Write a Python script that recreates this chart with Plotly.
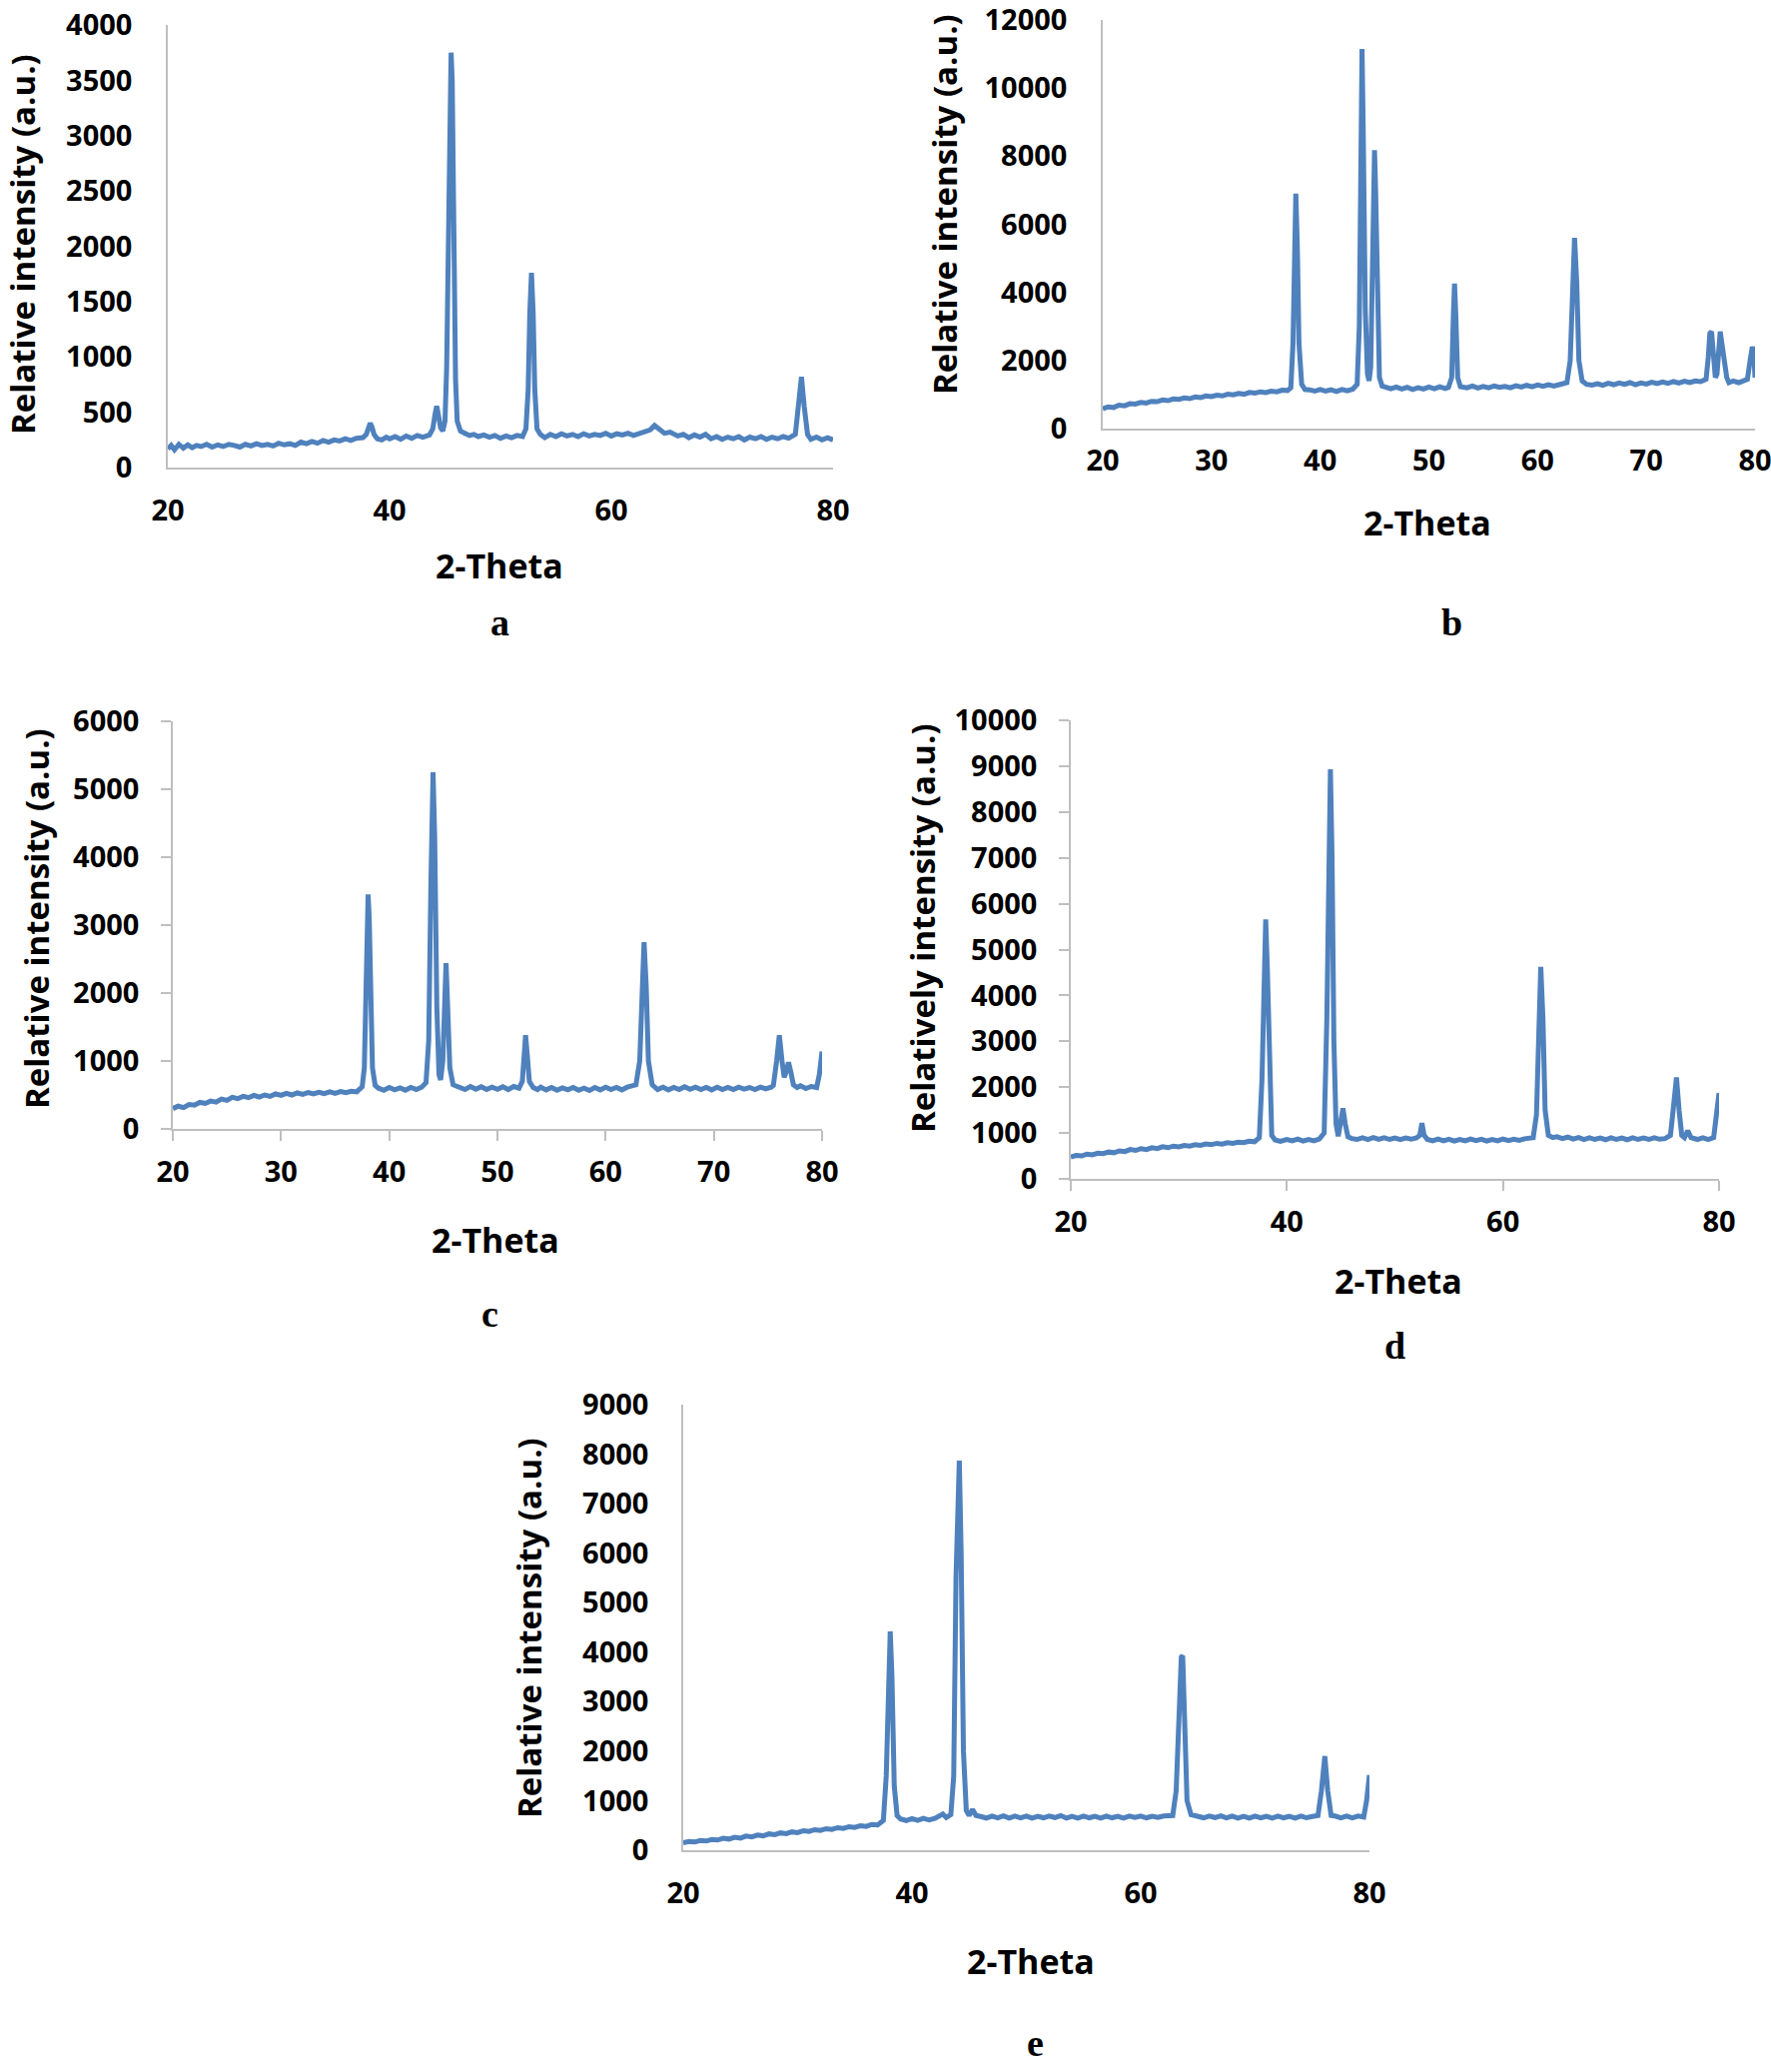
import plotly.graph_objects as go

# ---------------- data ----------------
theta_a = [20.0, 20.3, 20.6, 21, 21.4, 21.8, 22.2, 22.6, 23, 23.5, 24, 24.5, 25, 25.5, 26, 26.5, 27, 27.5, 28, 28.5,
           29, 29.5, 30, 30.5, 31, 31.5, 32, 32.5, 33, 33.5, 34, 34.5, 35, 35.5, 36, 36.5, 37,
           37.6, 37.9, 38.1, 38.25, 38.4, 38.6, 38.9, 39.3, 39.7, 40, 40.5, 41, 41.5, 42, 42.5, 43, 43.6, 43.9, 44.1, 44.25, 44.4,
           44.6, 44.8, 45.0, 45.15, 45.3, 45.45, 45.55, 45.65, 45.8, 45.95, 46.1, 46.4, 46.8, 47.2, 47.6, 48, 48.5, 49, 49.5, 50, 50.5, 51,
           51.5, 52, 52.3, 52.5, 52.65, 52.8, 52.95, 53.1, 53.3, 53.6, 54, 54.5, 55, 55.5, 56, 56.5, 57, 57.5, 58, 58.5, 59, 59.5, 60,
           60.5, 61, 61.5, 62, 62.5, 63,
           63.5, 63.9, 64.3, 64.8, 65.3, 65.7, 66, 66.5, 67, 67.5, 68, 68.5, 69, 69.5, 70, 70.5, 71, 71.5, 72, 72.5, 73, 73.5,
           74, 74.5, 75, 75.5, 76, 76.6, 76.9,
           77.15, 77.4, 77.7, 78, 78.5, 79, 79.5, 80]
intensity_a = [170, 200, 160, 210, 175, 205, 180, 200, 190, 210, 185, 205, 190, 210, 200, 185, 210, 195, 215, 200,
               210, 195, 220, 205, 215, 200, 230, 215, 235, 220, 245, 230, 250, 240, 260, 245, 265,
               270, 300, 370, 400, 370, 300, 260, 250, 275, 260, 280, 255, 285, 265, 290, 275, 295, 350, 480, 555, 480,
               360, 330, 420, 900, 2300, 3600, 3750, 3500, 2000, 800, 420, 330, 310, 290, 300, 280, 295, 275, 290, 265, 285, 270,
               290, 280, 350, 700, 1400, 1760, 1400, 700, 350, 300, 270, 300, 280, 305, 285, 300, 280, 305, 285, 300, 290, 310, 285,
               305, 295, 310, 290, 305, 315,
               340, 380, 345, 310, 320, 300, 285, 300, 270, 295, 275, 300, 260, 280, 255, 275, 260, 280, 250, 275, 260, 280,
               255, 275, 260, 280, 265, 300, 550,
               820, 550, 300, 255, 275, 250, 270, 250]

theta_b = [20, 20.5, 21, 21.5, 22, 22.5, 23, 23.5, 24, 24.5, 25, 25.5, 26, 26.5, 27, 27.5, 28, 28.5, 29, 29.5, 30, 30.5,
           31, 31.5, 32, 32.5, 33, 33.5, 34, 34.5, 35, 35.5, 36, 36.5, 37, 37.3, 37.5, 37.65,
           37.76, 37.9, 38.05, 38.3, 38.6, 39, 39.5, 40, 40.5, 41, 41.5, 42, 42.5, 43, 43.4, 43.6, 43.75, 43.85, 43.95, 44.15, 44.35,
           44.5, 44.65, 44.8, 44.92, 45.0, 45.1, 45.25, 45.45, 45.7, 46, 46.5, 47, 47.5, 48, 48.5, 49, 49.5, 50, 50.5, 51, 51.5, 51.8, 52.1,
           52.25, 52.36, 52.48, 52.65, 52.9, 53.5, 54, 54.5, 55, 55.5, 56, 56.5, 57, 57.5, 58, 58.5, 59, 59.5, 60, 60.5, 61, 61.5,
           62, 62.7, 63.0, 63.2, 63.4,
           63.6, 63.8, 64.1, 64.5, 65, 65.5, 66, 66.5, 67, 67.5, 68, 68.5, 69, 69.5, 70, 70.5, 71, 71.5, 72, 72.5, 73, 73.5, 74,
           74.5, 75, 75.5, 75.7, 75.85, 76.0,
           76.15, 76.35, 76.5, 76.65, 76.8, 76.95, 77.1, 77.25, 77.4, 77.6, 78, 78.5, 79, 79.3, 79.55,
           79.75, 79.9, 80]
intensity_b = [580, 640, 620, 690, 670, 730, 720, 770, 750, 800, 790, 840, 820, 870, 860, 900, 880, 930, 910, 960, 940, 980,
               960, 1010, 990, 1030, 1010, 1060, 1040, 1080, 1060, 1100, 1080, 1130, 1120, 1200, 2500, 5500,
               6900, 5300, 2500, 1300, 1150, 1140, 1100, 1150, 1100, 1140, 1090, 1150, 1110, 1160, 1300, 3000, 8500, 11150, 9000, 3500, 1600,
               1400, 1800, 4500, 7600, 8180, 7000, 3500, 1500, 1250, 1210, 1170, 1220, 1160, 1210, 1150, 1200, 1160, 1220, 1170, 1230, 1180, 1210, 1500,
               3300, 4260, 3300, 1500, 1230, 1200, 1250, 1190, 1240, 1200, 1250, 1210, 1240, 1200, 1260, 1220, 1270, 1230, 1280, 1240, 1290, 1250,
               1290, 1350, 2000, 4300, 5600,
               4300, 2000, 1400, 1300, 1280, 1320, 1270, 1330, 1290, 1340, 1300, 1350, 1290, 1340, 1310, 1360, 1320, 1370, 1330, 1380, 1340, 1390, 1350,
               1400, 1380, 1450, 2100, 2800, 2850,
               2400, 1500, 1600, 2500, 2850, 2500, 2150, 2000, 1500, 1350, 1400, 1350, 1400, 1450, 2000,
               2400, 2200, 1500]

theta_c = [20, 20.5, 21, 21.5, 22, 22.5, 23, 23.5, 24, 24.5, 25, 25.5, 26, 26.5, 27, 27.5, 28, 28.5, 29, 29.5, 30, 30.5,
           31, 31.5, 32, 32.5, 33, 33.5, 34, 34.5, 35, 35.5, 36, 36.5, 37, 37.5, 37.7,
           37.85, 38.0, 38.05, 38.15, 38.3, 38.45, 38.7, 39, 39.5, 40, 40.5, 41, 41.5, 42, 42.5, 43, 43.4, 43.65, 43.85, 44.05, 44.2,
           44.4, 44.6, 44.75, 44.95, 45.1, 45.25, 45.4, 45.6, 45.9, 46.5, 47, 47.5, 48, 48.5, 49, 49.5, 50, 50.5, 51, 51.5, 52, 52.3,
           52.45, 52.6, 52.75, 52.95, 53.3, 53.7, 54, 54.5, 55, 55.5, 56, 56.5, 57, 57.5, 58, 58.5, 59, 59.5, 60, 60.5, 61, 61.5, 62,
           62.8, 63.15, 63.35, 63.55,
           63.75, 63.95, 64.3, 64.8, 65.3, 65.8, 66.3, 66.8, 67.3, 67.8, 68.3, 68.8, 69.3, 69.8, 70.3, 70.8, 71.3, 71.8, 72.3,
           72.8, 73.3, 73.8, 74.3, 74.8, 75.3, 75.5, 75.8, 76.05, 76.3, 76.5,
           76.7, 76.9, 77.1, 77.35, 77.7, 78, 78.5, 79, 79.5, 79.75, 80]
intensity_c = [300, 335, 315, 360, 350, 390, 375, 410, 395, 440, 420, 465, 445, 480, 460, 495, 470, 500, 480, 515, 495, 525,
               500, 530, 510, 535, 515, 540, 520, 545, 525, 550, 535, 555, 545, 620, 900,
               2200, 3300, 3450, 3100, 1800, 900, 640, 600, 570, 610, 575, 605, 570, 610, 580, 615, 680, 1300, 3600, 5250, 4300,
               1800, 800, 720, 1000, 2000, 2440, 1800, 900, 650, 610, 580, 625, 585, 620, 580, 615, 585, 620, 580, 625, 600, 700,
               1100, 1380, 1100, 700, 610, 580, 615, 575, 610, 570, 605, 575, 610, 570, 600, 565, 610, 575, 615, 580, 610, 575, 615,
               650, 1000, 2000, 2750,
               2100, 1000, 650, 580, 615, 575, 610, 580, 620, 585, 615, 580, 610, 575, 615, 580, 610, 580, 615,
               585, 610, 580, 615, 590, 615, 640, 1000, 1380, 1000, 760,
               850, 980, 850, 650, 610, 635, 595, 625, 610, 800, 1140]

theta_d = [20, 20.5, 21, 21.5, 22, 22.5, 23, 23.5, 24, 24.5, 25, 25.5, 26, 26.5, 27, 27.5, 28, 28.5, 29, 29.5, 30, 30.5,
           31, 31.5, 32, 32.5, 33, 33.5, 34, 34.5, 35, 35.5, 36, 36.5, 37, 37.45, 37.7, 37.9,
           38.04, 38.2, 38.4, 38.6, 38.9, 39.4, 40, 40.5, 41, 41.5, 42, 42.5, 43, 43.45, 43.7, 43.88, 44.03, 44.18, 44.35,
           44.55, 44.75, 44.95, 45.19, 45.4, 45.65, 46, 46.5, 47, 47.5, 48, 48.5, 49, 49.5, 50, 50.5, 51, 51.5, 52, 52.3, 52.5, 52.7, 53,
           53.5, 54, 54.5, 55, 55.5, 56, 56.5, 57, 57.5, 58, 58.5, 59, 59.5, 60, 60.5, 61, 61.5, 62, 62.8, 63.1, 63.3, 63.5, 63.7,
           63.9, 64.2, 64.6, 65, 65.5, 66, 66.5, 67, 67.5, 68, 68.5, 69, 69.5, 70, 70.5, 71, 71.5, 72, 72.5, 73, 73.5, 74, 74.5,
           75, 75.5, 75.75, 76.06, 76.3, 76.55, 76.8, 77.1, 77.4, 78, 78.5, 79, 79.5,
           79.75, 80]
intensity_d = [480, 510, 500, 540, 525, 560, 550, 585, 570, 610, 595, 640, 620, 660, 640, 680, 660, 700, 680, 715, 700, 730,
               715, 745, 730, 760, 745, 775, 760, 790, 775, 800, 790, 820, 810, 900, 2200, 4800,
               5660, 4500, 2000, 950, 850, 820, 860, 830, 870, 825, 860, 830, 870, 1000, 3500, 7800, 8930, 7000, 3000,
               1200, 930, 1200, 1540, 1200, 920, 880, 860, 895, 860, 900, 865, 895, 860, 890, 855, 890, 865, 895, 950, 1215, 950, 860,
               830, 870, 830, 865, 825, 860, 830, 870, 835, 865, 825, 860, 830, 870, 835, 865, 840, 875, 900, 1400, 3200, 4620, 3500,
               1500, 950, 900, 920, 880, 910, 870, 900, 860, 895, 860, 890, 855, 895, 860, 890, 855, 895, 860, 890, 860, 895, 865,
               880, 950, 1500, 2210, 1500, 950, 900, 1050, 900, 860, 895, 860, 900,
               1300, 1870]

theta_e = [20, 20.5, 21, 21.5, 22, 22.5, 23, 23.5, 24, 24.5, 25, 25.5, 26, 26.5, 27, 27.5, 28, 28.5, 29, 29.5, 30, 30.5,
           31, 31.5, 32, 32.5, 33, 33.5, 34, 34.5, 35, 35.5, 36, 36.5, 37, 37.5, 37.75, 37.95,
           38.1, 38.25, 38.45, 38.7, 39, 39.5, 40, 40.5, 41, 41.5, 42, 42.7, 43, 43.4, 43.65, 43.85, 44.0, 44.14, 44.3, 44.5,
           44.75, 45.0, 45.3, 45.6, 46, 46.5, 47, 47.5, 48, 48.5, 49, 49.5, 50, 50.5, 51, 51.5, 52, 52.5, 53, 53.5, 54, 54.5, 55,
           55.5, 56, 56.5, 57, 57.5, 58, 58.5, 59, 59.5, 60, 60.5, 61, 61.5, 62,
           62.8, 63.1, 63.35, 63.55, 63.67, 63.85, 64.05, 64.4, 65, 65.5, 66, 66.5, 67, 67.5, 68, 68.5, 69, 69.5, 70, 70.5, 71,
           71.5, 72, 72.5, 73, 73.5, 74, 74.5, 75,
           75.5, 75.8, 76.1, 76.35, 76.65, 77, 77.5, 78, 78.5, 79, 79.5, 79.75, 80]
intensity_e = [150, 175, 165, 195, 185, 215, 205, 240, 225, 260, 245, 285, 270, 305, 290, 330, 315, 350, 335, 370, 355, 395,
               380, 415, 400, 435, 420, 455, 440, 475, 460, 495, 480, 520, 510, 600, 1500, 3800,
               4420, 3500, 1300, 700, 630, 600, 640, 605, 645, 610, 640, 730, 660, 720, 1500, 5500, 7400, 7870, 6000, 2000,
               800, 700, 820, 700, 680, 650, 690, 655, 695, 650, 690, 655, 690, 650, 685, 655, 690, 660, 700, 650, 685, 650, 690,
               655, 685, 650, 690, 655, 685, 650, 690, 660, 690, 655, 685, 660, 690,
               700, 1200, 2500, 3900, 3930, 2500, 1000, 720, 680, 655, 690, 660, 695, 655, 690, 650, 685, 650, 690, 655, 685,
               650, 690, 655, 685, 650, 690, 655, 680,
               700, 1200, 1900, 1200, 700, 690, 655, 690, 655, 690, 670, 1000, 1520]

xticks_a = [20, 40, 60, 80]
xticks_b = [20, 30, 40, 50, 60, 70, 80]
xticks_c = [20, 30, 40, 50, 60, 70, 80]
xticks_d = [20, 40, 60, 80]
xticks_e = [20, 40, 60, 80]

ytitle_common = "Relative intensity (a.u.)"
ytitle_d = "Relatively intensity (a.u.)"
xtitle = "2-Theta"
panel_labels = ["a", "b", "c", "d", "e"]

# ---------------- styling / layout ----------------
W, H = 1773, 2074
LINE = "#4F81BD"
AXIS = "#BFBFBF"
TICKFONT = dict(family="Open Sans, sans-serif", size=29, color="black", weight="bold")
TITLEFONT = dict(family="Open Sans, Liberation Sans, sans-serif", size=33, color="black", weight="bold")
XTFONT = dict(family="Open Sans, sans-serif", size=34, color="black", weight="bold")
LETTERFONT = dict(family="Liberation Serif, serif", size=38, color="black", weight="bold")

# panel pixel boxes: (x0, x1, ytop, ybottom), label standoffs (x, y)
panels = [
    dict(x=theta_a, y=intensity_a, box=(168, 834, 25, 468), ymax=4000, dy=500, xt=xticks_a, ticks="",
         xso=16, yso=28,
         ytitle=ytitle_common, ytpos=(22, 245), xtpos=(500, 566), lpos=(500, 623)),
    dict(x=theta_b, y=intensity_b, box=(1104, 1757, 20, 429), ymax=12000, dy=2000, xt=xticks_b, ticks="",
         xso=5, yso=28,
         ytitle=ytitle_common, ytpos=(945, 205), xtpos=(1429, 523), lpos=(1453, 623)),
    dict(x=theta_c, y=intensity_c, box=(173, 823, 722, 1130), ymax=6000, dy=1000, xt=xticks_c, ticks="outside",
         xso=6, yso=16,
         ytitle=ytitle_common, ytpos=(36, 920), xtpos=(496, 1241), lpos=(490, 1315)),
    dict(x=theta_d, y=intensity_d, box=(1072, 1721, 721, 1180), ymax=10000, dy=1000, xt=xticks_d, ticks="outside",
         xso=6, yso=16,
         ytitle=ytitle_d, ytpos=(923, 929), xtpos=(1400, 1282), lpos=(1396, 1347)),
    dict(x=theta_e, y=intensity_e, box=(684, 1371, 1406, 1852), ymax=9000, dy=1000, xt=xticks_e, ticks="",
         xso=16, yso=27,
         ytitle=ytitle_common, ytpos=(529, 1630), xtpos=(1032, 1963), lpos=(1036, 2045)),
]

fig = go.Figure()
annotations = []
layout = dict(width=W, height=H, margin=dict(l=0, r=0, t=0, b=0, autoexpand=False),
              paper_bgcolor="white", plot_bgcolor="white", showlegend=False)

for i, p in enumerate(panels):
    n = "" if i == 0 else str(i + 1)
    x0, x1, yt, yb = p["box"]
    fig.add_trace(go.Scatter(x=p["x"], y=p["y"], mode="lines",
                             line=dict(color=LINE, width=5),
                             xaxis="x" + n, yaxis="y" + n, hoverinfo="skip"))
    layout["xaxis" + n] = dict(domain=[x0 / W, x1 / W], anchor="y" + n, range=[20, 80],
                               tickvals=p["xt"], tickformat="d", showline=True, linecolor=AXIS, linewidth=1.5,
                               showgrid=False, zeroline=False, ticks=p["ticks"], ticklen=10,
                               tickcolor=AXIS, tickwidth=1.5, tickfont=TICKFONT, automargin=False,
                               ticklabelstandoff=p["xso"], ticklabeloverflow="allow")
    layout["yaxis" + n] = dict(domain=[1 - yb / H, 1 - yt / H], anchor="x" + n, range=[0, p["ymax"]],
                               dtick=p["dy"], tick0=0, tickformat="d", showline=True, linecolor=AXIS, linewidth=1.5,
                               showgrid=False, zeroline=False, ticks=p["ticks"], ticklen=10,
                               tickcolor=AXIS, tickwidth=1.5, tickfont=TICKFONT, automargin=False,
                               ticklabelstandoff=p["yso"], ticklabeloverflow="allow")
    annotations.append(dict(text=p["ytitle"], x=p["ytpos"][0] / W, y=1 - p["ytpos"][1] / H,
                            xref="paper", yref="paper", showarrow=False, textangle=-90,
                            font=TITLEFONT, xanchor="center", yanchor="middle"))
    annotations.append(dict(text=xtitle, x=p["xtpos"][0] / W, y=1 - p["xtpos"][1] / H,
                            xref="paper", yref="paper", showarrow=False,
                            font=XTFONT, xanchor="center", yanchor="middle"))
    annotations.append(dict(text=panel_labels[i], x=p["lpos"][0] / W, y=1 - p["lpos"][1] / H,
                            xref="paper", yref="paper", showarrow=False,
                            font=LETTERFONT, xanchor="center", yanchor="middle"))

layout["annotations"] = annotations
fig.update_layout(**layout)
fig.write_html("out.html", config={"displayModeBar": False},
               post_script="document.body.style.margin='0px';")
